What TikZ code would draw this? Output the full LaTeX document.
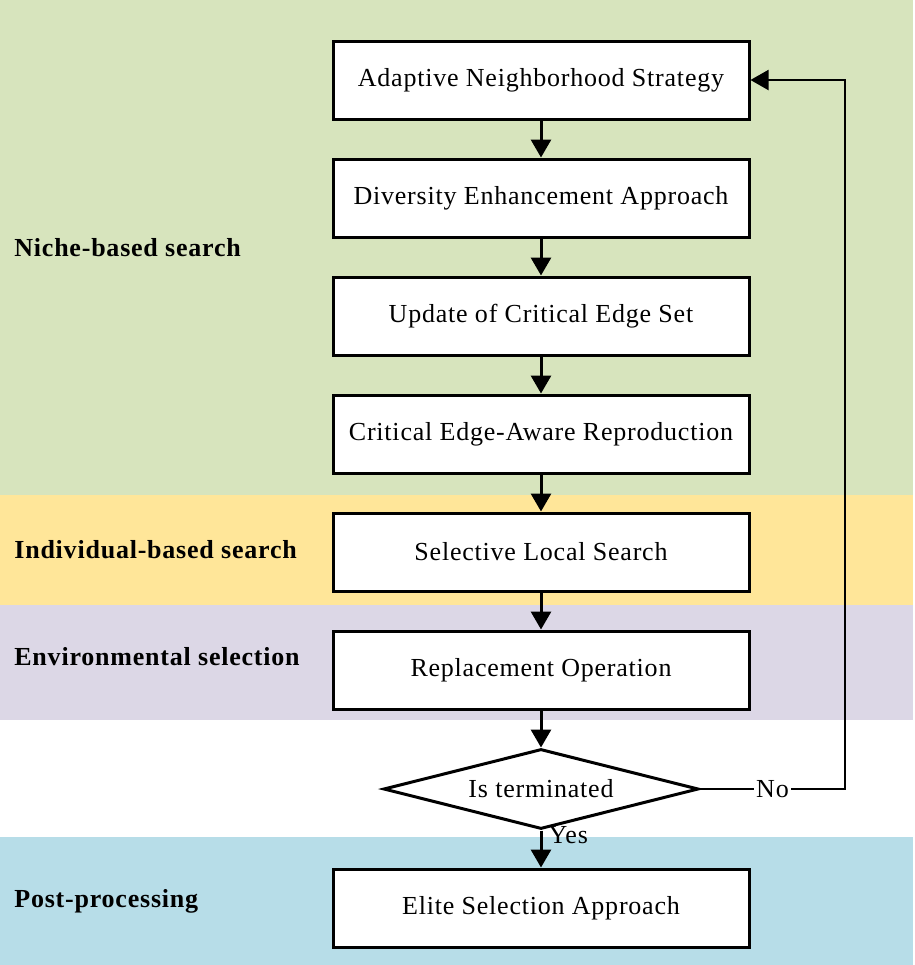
\documentclass[tikz,border=0pt]{standalone}
\usepackage{fontspec}
\setmainfont{Liberation Serif}[LetterSpace=3]
\usepackage{xcolor}
\usetikzlibrary{arrows.meta,positioning,shapes.geometric}

\definecolor{nichegreen}{HTML}{D7E4BD}
\definecolor{indivyellow}{HTML}{FFE699}
\definecolor{envpurple}{HTML}{DCD7E6}
\definecolor{postblue}{HTML}{B7DDE8}

\begin{document}
\begin{tikzpicture}[
  x=0.5pt, y=-0.5pt,
  node distance=18.5pt,
  every node/.style={font=\fontsize{13}{15}\selectfont},
  stepbox/.style={draw, line width=1.5pt, fill=white, align=center, minimum width=208pt, minimum height=39pt},
  decision/.style={draw, diamond, aspect=3.9, line width=1.5pt, fill=white, inner sep=0pt, minimum width=157.5pt, minimum height=40pt},
  phase/.style={anchor=west, inner sep=0pt, font=\fontsize{13}{15}\selectfont\bfseries},
  arrow/.style={-{Triangle[length=9pt, width=10pt]}, line width=1.5pt},
  loopback/.style={-{Triangle[length=9pt, width=10pt]}, line width=1pt}
]
\useasboundingbox (0,0) rectangle (915,965);
% phase bands
\fill[nichegreen] (0,0) rectangle (913,495);
\fill[indivyellow] (0,495) rectangle (913,605);
\fill[envpurple] (0,605) rectangle (913,720);
\fill[postblue] (0,837) rectangle (913,965);

\node[phase] (niche) at (14,248) {Niche-based search};
\node[phase] (indiv) at (14,550) {Individual-based search};
\node[phase] (env) at (14,657) {Environmental selection};
\node[phase] (post) at (14,901) {Post-processing};

% flow
\node[stepbox] (ans) at (541,80) {Adaptive Neighborhood Strategy};
\node[stepbox, below=of ans] (dea) {Diversity Enhancement Approach};
\node[stepbox, below=of dea] (uces) {Update of Critical Edge Set};
\node[stepbox, below=of uces] (cear) {Critical Edge-Aware Reproduction};
\node[stepbox, below=of cear] (sls) {Selective Local Search};
\node[stepbox, below=of sls] (repl) {Replacement Operation};
\node[decision, below=of repl] (term) {Is terminated};
\node[stepbox, below=of term] (esa) {Elite Selection Approach};
\coordinate (turn) at (term.east -| 845,0);

\draw[arrow] (ans) -- (dea);
\draw[arrow] (dea) -- (uces);
\draw[arrow] (uces) -- (cear);
\draw[arrow] (cear) -- (sls);
\draw[arrow] (sls) -- (repl);
\draw[arrow] (repl) -- (term);
\draw[arrow] (term) -- node[pos=0.12, right, inner sep=3pt] {Yes} (esa);
\draw[loopback] (term.east) -- node[fill=white, inner sep=1pt] {No} (turn) |- (ans.east);
\end{tikzpicture}
\end{document}
